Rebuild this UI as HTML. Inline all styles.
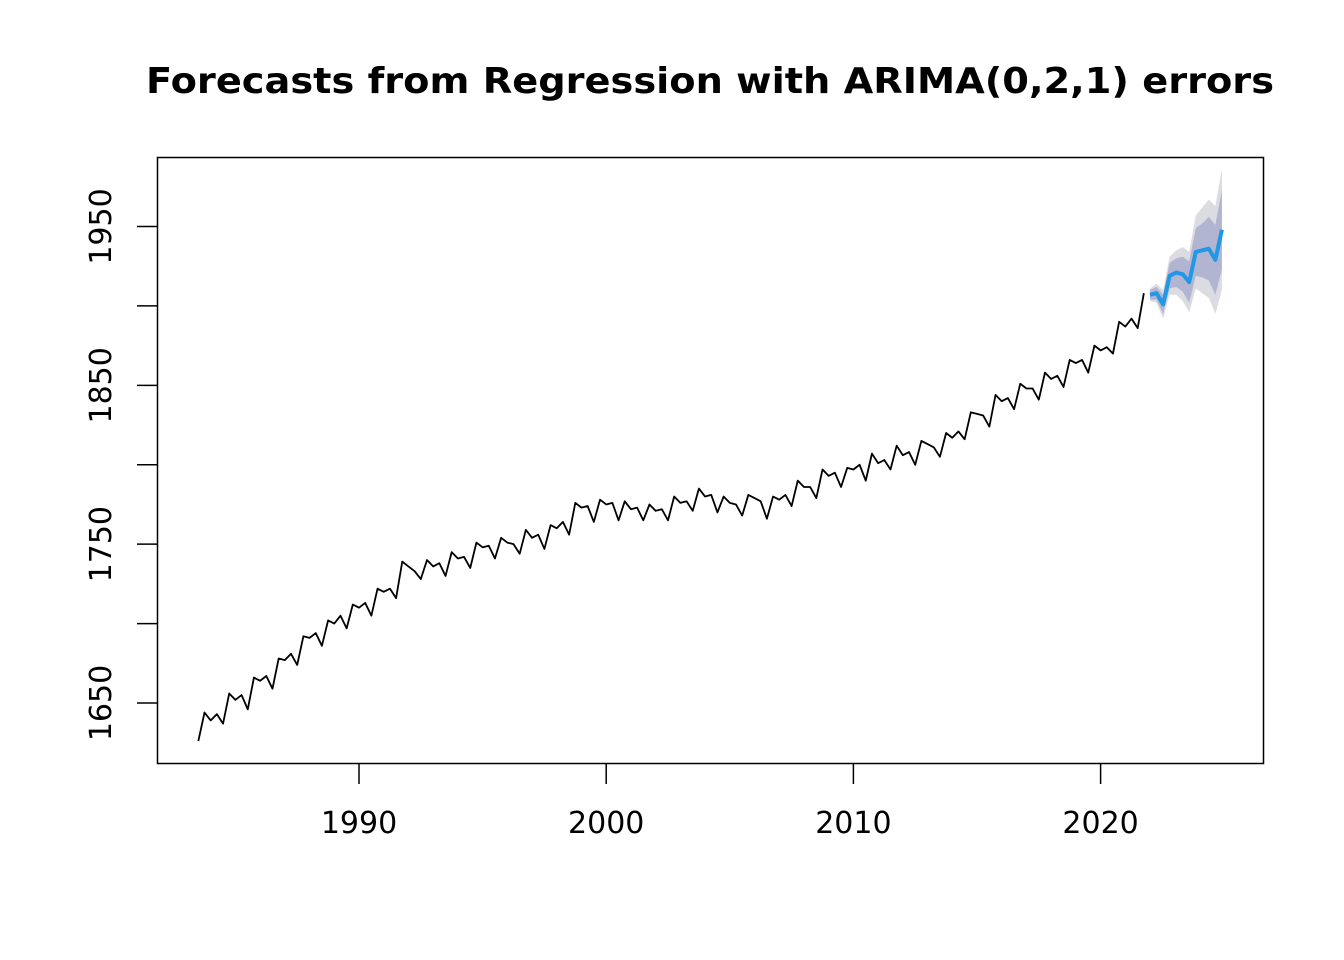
<!DOCTYPE html>
<html><head><meta charset="utf-8"><style>body{margin:0;background:#fff}svg{display:block}</style></head>
<body>
<svg id="chart" width="1344" height="960" font-family="'DejaVu Sans', 'Liberation Sans', sans-serif"></svg>
<script>
// quarterly observations starting 1983.5
const startYear = 1983.5;
const observed = [
1626,1644,1639,1643, 1637,1656,1652,1655, 1646,1666,1664,1667, 1659,1678,1677,1681,
1674,1692,1691,1694, 1686,1702,1700,1705, 1697,1712,1710,1713, 1705,1722,1720,1722,
1716,1739,1736,1733, 1728,1740,1736,1738, 1730,1745,1741,1742, 1735,1751,1748,1749,
1741,1754,1751,1750, 1744,1759,1754,1756, 1747,1762,1760,1764, 1756,1776,1773,1774,
1764,1778,1775,1776, 1765,1777,1772,1773, 1765,1775,1771,1772, 1765,1780,1776,1777,
1771,1785,1780,1781, 1770,1780,1776,1775, 1768,1781,1779,1777, 1766,1780,1778,1781,
1774,1790,1786,1786, 1779,1797,1793,1795, 1786,1798,1797,1800, 1790,1807,1801,1803,
1797,1812,1806,1808, 1800,1815,1813,1811, 1805,1820,1817,1821, 1816,1833,1832,1831,
1824,1844,1840,1842, 1835,1851,1848,1848, 1841,1858,1854,1856, 1849,1866,1864,1866,
1858,1875,1872,1874, 1870,1890,1887,1892, 1886,1908
];
const fcStart = 2022.0;
const forecast = [1907,1908,1901,1919,1921,1920,1915,1934,1935,1936,1929,1948];
const hw80 = [3,4,6,8,9,11,13,15,17,20,22,25];
const hw95 = [4,6,9,12,14,17,19,23,27,31,34,38];
const xTicks = [1990,2000,2010,2020];
const yTicks = [1650,1700,1750,1800,1850,1900,1950];
const yLabels = [1650,1750,1850,1950];

const NS="http://www.w3.org/2000/svg", svg=document.getElementById('chart');
const X = t => 359 + (t-1990)*24.72;
const Y = v => 703 - (v-1650)*1.5883;
const fcStep = 0.2643;
function mk(tag, attrs, parent){const e=document.createElementNS(NS,tag);for(const k in attrs)e.setAttribute(k,attrs[k]);(parent||svg).appendChild(e);return e;}

const title = mk('text',{x:710,y:93,'text-anchor':'middle','font-size':'36','font-weight':'bold',textLength:'1128',lengthAdjust:'spacingAndGlyphs'});


title.textContent='Forecasts from Regression with ARIMA(0,2,1) errors';

function band(hw, color, name){
  let up=[],lo=[];
  forecast.forEach((v,i)=>{const t=fcStart+i*fcStep;up.push(X(t)+','+Y(v+hw[i]));lo.unshift(X(t)+','+Y(v-hw[i]));});
  const p=mk('polygon',{points:up.concat(lo).join(' '),fill:color});
  
  
}
band(hw95,'#dbdbe2','band-95');
band(hw80,'#b1b5d1','band-80');

const obs = mk('polyline',{points:observed.map((v,i)=>X(startYear+i*0.25)+','+Y(v)).join(' '),fill:'none',stroke:'#000','stroke-width':'1.8','stroke-linejoin':'round'});



const fc = mk('polyline',{points:forecast.map((v,i)=>X(fcStart+i*fcStep)+','+Y(v)).join(' '),fill:'none',stroke:'#2297e6','stroke-width':'4','stroke-linejoin':'round'});



const box = mk('rect',{x:157.5,y:157.5,width:1106,height:606,fill:'none',stroke:'#000','stroke-width':'1.5'});



const xa = mk('g',{});


xTicks.forEach(t=>{
  mk('line',{x1:X(t),x2:X(t),y1:764,y2:784,stroke:'#000','stroke-width':'1.5'},xa);
  const l=mk('text',{x:X(t),y:833,'text-anchor':'middle','font-size':'30'},xa);
  
  
  l.textContent=t;
});
const ya = mk('g',{});


yTicks.forEach(v=>{mk('line',{x1:137,x2:157,y1:Y(v),y2:Y(v),stroke:'#000','stroke-width':'1.5'},ya);});
yLabels.forEach(v=>{
  const l=mk('text',{x:0,y:0,'text-anchor':'middle','font-size':'30',transform:`translate(111,${Y(v)}) rotate(-90)`},ya);
  
  
  l.textContent=v;
});
</script>
</body></html>
